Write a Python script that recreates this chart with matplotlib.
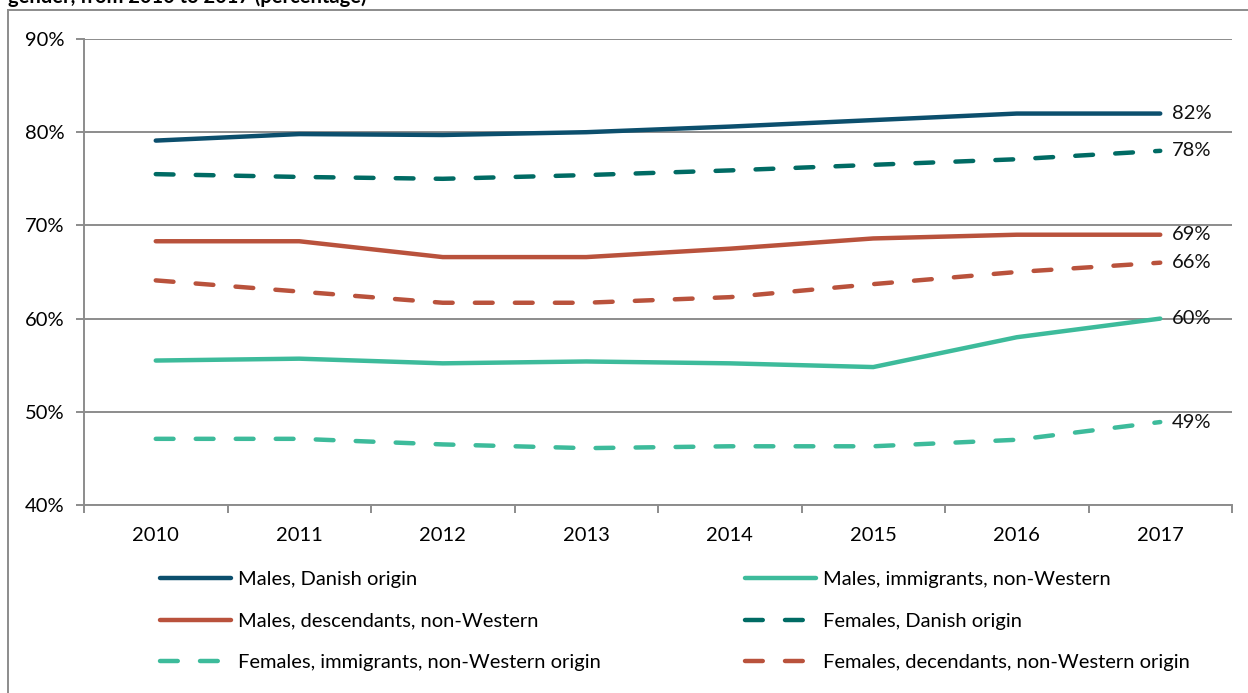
import matplotlib.pyplot as plt
from matplotlib.lines import Line2D
from matplotlib.ticker import FuncFormatter, FixedLocator, NullFormatter

plt.rcParams['font.family'] = ['Lato', 'DejaVu Sans']

# data (percent)
years = ['2010', '2011', '2012', '2013', '2014', '2015', '2016', '2017']
males_danish = [79.1, 79.8, 79.7, 80.0, 80.6, 81.3, 82.0, 82.0]
females_danish = [75.5, 75.2, 75.0, 75.4, 75.9, 76.5, 77.1, 78.0]
males_desc = [68.3, 68.3, 66.6, 66.6, 67.5, 68.6, 69.0, 69.0]
females_desc = [64.1, 62.9, 61.7, 61.7, 62.3, 63.7, 65.0, 66.0]
males_immi = [55.5, 55.7, 55.2, 55.4, 55.2, 54.8, 58.0, 60.0]
females_immi = [47.1, 47.1, 46.5, 46.1, 46.3, 46.3, 47.0, 48.9]
end_labels = ['82%', '78%', '69%', '66%', '60%', '49%']

c_blue = '#0c4f6d'
c_teal = '#006b64'
c_red = '#b9523c'
c_green = '#3dbb9b'
grid_col = '#8c8c8c'
fs = 14.5

fig = plt.figure(figsize=(12.48, 6.93), dpi=100)
ax = fig.add_axes([84/1248, 1-505/693, (1232-84)/1248, (505-39)/693])

x = list(range(len(years)))
dash = (4.0, 5.0)
lw = 3.2

series = [
    (males_danish, c_blue, 'solid', 'Males, Danish origin'),
    (females_danish, c_teal, 'dashed', 'Females, Danish origin'),
    (males_desc, c_red, 'solid', 'Males, descendants, non-Western'),
    (females_desc, c_red, 'dashed', 'Females, decendants, non-Western origin'),
    (males_immi, c_green, 'solid', 'Males, immigrants, non-Western'),
    (females_immi, c_green, 'dashed', 'Females, immigrants, non-Western origin'),
]

handles = {}
for vals, col, style, name in series:
    if style == 'dashed':
        ln, = ax.plot(x, vals, color=col, lw=lw, dashes=dash, dash_capstyle='round',
                      solid_capstyle='round', label=name, zorder=3)
    else:
        ln, = ax.plot(x, vals, color=col, lw=lw, solid_capstyle='round',
                      solid_joinstyle='round', label=name, zorder=3)
    handles[name] = ln

for (vals, col, style, name), lab in zip(series, end_labels):
    ax.annotate(lab, (x[-1], vals[-1]), xytext=(8.5, 0), textcoords='offset points',
                va='center', ha='left', fontsize=fs, color='#111111')

ax.set_xlim(-0.5, 7.5)
ax.set_ylim(40, 90)
ax.set_yticks([40, 50, 60, 70, 80, 90])
ax.yaxis.set_major_formatter(FuncFormatter(lambda v, p: f'{int(v)}%'))
ax.yaxis.grid(True, color=grid_col, lw=1.4)
ax.set_axisbelow(True)

ax.xaxis.set_major_locator(FixedLocator([i - 0.5 for i in range(9)]))
ax.xaxis.set_major_formatter(NullFormatter())
ax.xaxis.set_minor_locator(FixedLocator(x))
ax.xaxis.set_minor_formatter(FuncFormatter(lambda v, p: years[int(round(v))]))
ax.tick_params(axis='x', which='major', length=6, width=1.4, color=grid_col, direction='out')
ax.tick_params(axis='x', which='minor', length=0, pad=16, labelsize=fs)
ax.tick_params(axis='y', length=6, width=1.4, color=grid_col, labelsize=fs, pad=8)

for s in ['top', 'right']:
    ax.spines[s].set_visible(False)
for s in ['left', 'bottom']:
    ax.spines[s].set_color(grid_col)
    ax.spines[s].set_linewidth(1.4)

# legend, two columns placed separately
left_names = ['Males, Danish origin', 'Males, descendants, non-Western',
              'Females, immigrants, non-Western origin']
right_names = ['Males, immigrants, non-Western', 'Females, Danish origin',
               'Females, decendants, non-Western origin']
for names, xpos in [(left_names, 152/1248), (right_names, 737/1248)]:
    fig.legend([handles[n] for n in names], names, loc='upper left',
               bbox_to_anchor=(xpos, 1-563/693), frameon=False, fontsize=fs,
               handlelength=3.5, handletextpad=0.35, labelspacing=1.22,
               borderaxespad=0)

# outer frame (only left and top visible in the crop)
fig.add_artist(Line2D([8/1248, 8/1248], [0, 1-10/693], color=grid_col, lw=1.4))
fig.add_artist(Line2D([8/1248, 1], [1-10/693, 1-10/693], color=grid_col, lw=1.4))

fig.text(8/1248, 1-3/693, 'gender, from 2010 to 2017 (percentage)', fontsize=fs,
         fontweight='bold', va='baseline', ha='left')

fig.savefig('out.png', dpi=100)
